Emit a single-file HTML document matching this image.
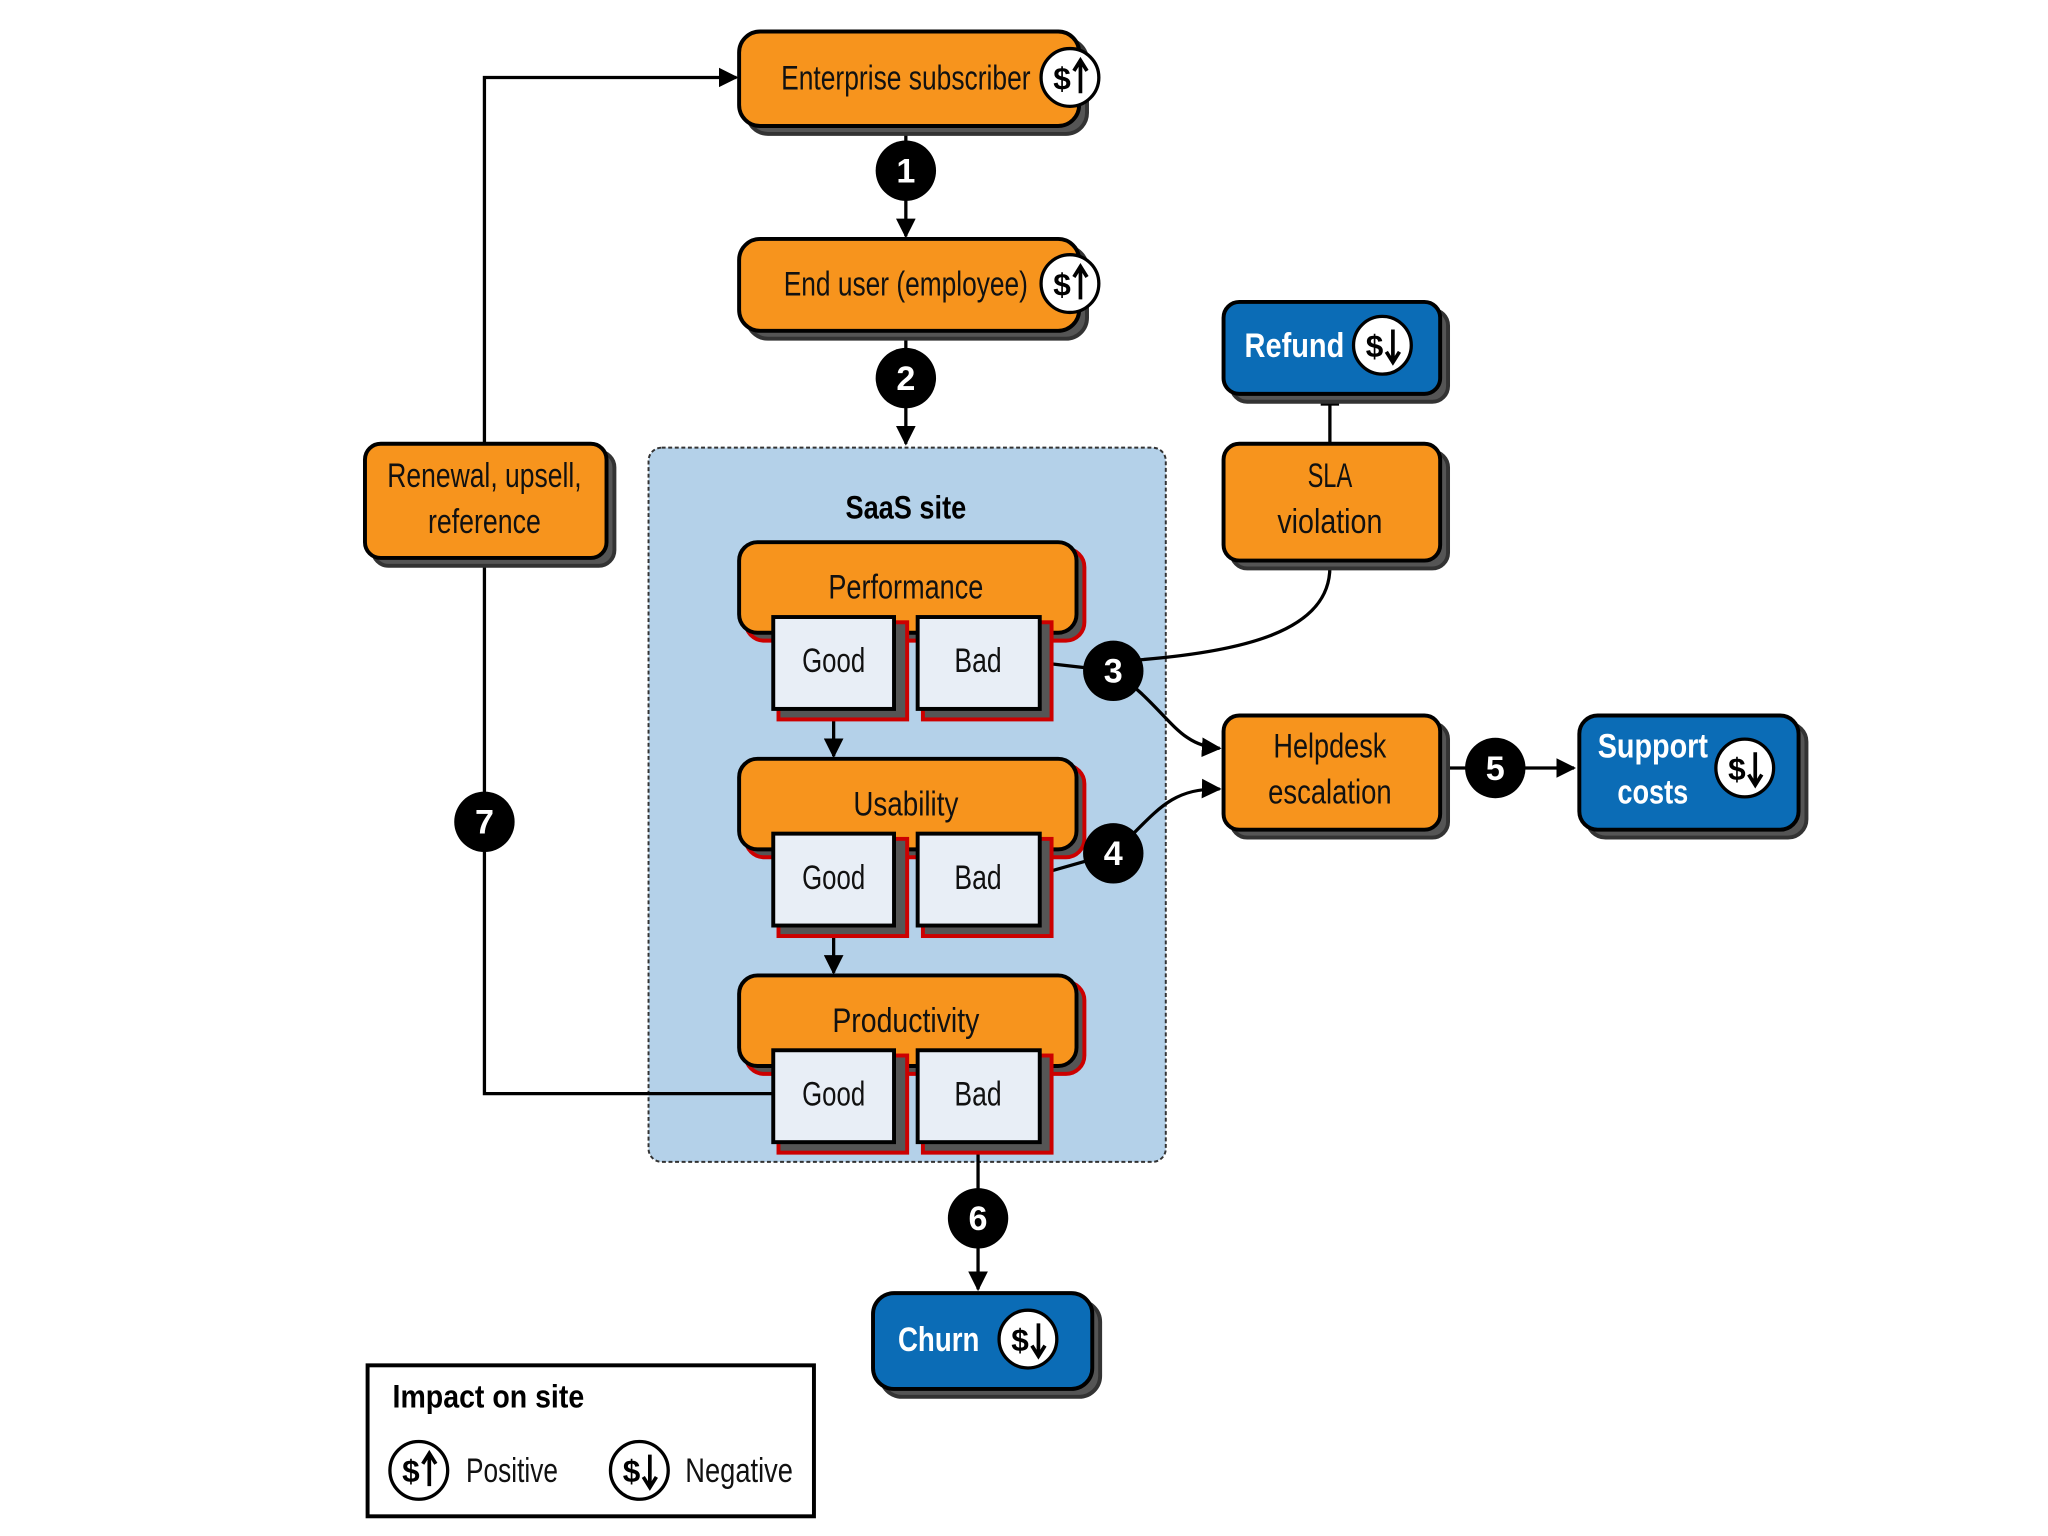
<!DOCTYPE html>
<html><head><meta charset="utf-8"><style>
html,body{margin:0;padding:0;background:#fff;}
svg{display:block;}
text{font-family:"Liberation Sans Narrow","Liberation Sans",sans-serif;}
</style></head><body>
<svg width="2048" height="1536" viewBox="0 0 1560 1170" xmlns="http://www.w3.org/2000/svg">
<defs>
<marker id="ah" viewBox="0 0 10 10" refX="9" refY="5" markerWidth="6" markerHeight="6" orient="auto"><path d="M0,0L10,5L0,10z" fill="#000"/></marker>
<g id="dup"><circle r="22" fill="#fff" stroke="#000" stroke-width="2.5"/><text x="-6" y="9" font-size="24" font-weight="bold" text-anchor="middle" fill="#000">$</text><path d="M8,12V-12M3,-5L8,-13L13,-5" stroke="#000" stroke-width="2.8" fill="none"/></g>
<g id="ddn"><circle r="22" fill="#fff" stroke="#000" stroke-width="2.5"/><text x="-6" y="9" font-size="24" font-weight="bold" text-anchor="middle" fill="#000">$</text><path d="M8,-12V12M3,5L8,13L13,5" stroke="#000" stroke-width="2.8" fill="none"/></g>
</defs>
<rect width="1560" height="1170" fill="#fff"/>

<rect x="494" y="341" width="394" height="544" rx="10" fill="#b4d1e9" stroke="#333" stroke-width="1.5" stroke-dasharray="3,2"/>
<text x="690" y="395" font-size="25" font-weight="bold" text-anchor="middle" textLength="92" lengthAdjust="spacingAndGlyphs">SaaS site</text>

<g stroke="#000" stroke-width="2.5" fill="none">
<line x1="690" y1="96" x2="690" y2="180" marker-end="url(#ah)"/>
<line x1="690" y1="252" x2="690" y2="338" marker-end="url(#ah)"/>
<path d="M589,833H369V59H561" marker-end="url(#ah)"/>
<line x1="635" y1="540" x2="635" y2="576" marker-end="url(#ah)"/>
<line x1="635" y1="705" x2="635" y2="741" marker-end="url(#ah)"/>
<line x1="745" y1="870" x2="745" y2="982" marker-end="url(#ah)"/>
<path d="M795,505L848,511"/>
<path d="M848,504C950,498 1013,480 1013,432"/>
<path d="M1013,338V306"/>
<path d="M848,511C890,540 895,568 929,570" marker-end="url(#ah)"/>
<path d="M795,665L848,650C880,620 890,600 929,601" marker-end="url(#ah)"/>
<line x1="1097" y1="585" x2="1199" y2="585" marker-end="url(#ah)"/>
</g>
<rect x="1006" y="305" width="14" height="4" fill="#000"/>
<rect x="1006" y="427" width="14" height="4" fill="#000"/>

<g stroke="#000" stroke-width="3">
<rect x="569" y="30" width="259" height="72" rx="16" fill="#555" stroke="#333"/>
<rect x="563" y="24" width="259" height="72" rx="16" fill="#f7941d"/>
<rect x="569" y="188" width="259" height="70" rx="16" fill="#555" stroke="#333"/>
<rect x="563" y="182" width="259" height="70" rx="16" fill="#f7941d"/>
<rect x="284" y="344" width="184" height="87" rx="12" fill="#555" stroke="#333"/>
<rect x="278" y="338" width="184" height="87" rx="12" fill="#f7941d"/>
<rect x="938" y="236" width="165" height="70" rx="12" fill="#555" stroke="#333"/>
<rect x="932" y="230" width="165" height="70" rx="12" fill="#0b6cb6"/>
<rect x="938" y="344" width="165" height="89" rx="12" fill="#555" stroke="#333"/>
<rect x="932" y="338" width="165" height="89" rx="12" fill="#f7941d"/>
<rect x="938" y="551" width="165" height="87" rx="12" fill="#555" stroke="#333"/>
<rect x="932" y="545" width="165" height="87" rx="12" fill="#f7941d"/>
<rect x="1209" y="551" width="167" height="87" rx="14" fill="#555" stroke="#333"/>
<rect x="1203" y="545" width="167" height="87" rx="14" fill="#0b6cb6"/>
<rect x="671" y="991" width="167" height="73" rx="16" fill="#555" stroke="#333"/>
<rect x="665" y="985" width="167" height="73" rx="16" fill="#0b6cb6"/>
</g>

<g stroke-width="3">
<g>
<rect x="568" y="418" width="258" height="70" rx="14" fill="#555" stroke="#c00"/>
<rect x="563" y="413" width="257" height="69" rx="14" fill="#f7941d" stroke="#000"/>
<rect x="593" y="474" width="98" height="74" fill="#555" stroke="#c00"/>
<rect x="589" y="470" width="92" height="70" fill="#e8eef6" stroke="#000"/>
<rect x="703" y="474" width="98" height="74" fill="#555" stroke="#c00"/>
<rect x="699" y="470" width="93" height="70" fill="#e8eef6" stroke="#000"/>
</g>
<g>
<rect x="568" y="583" width="258" height="70" rx="14" fill="#555" stroke="#c00"/>
<rect x="563" y="578" width="257" height="69" rx="14" fill="#f7941d" stroke="#000"/>
<rect x="593" y="639" width="98" height="74" fill="#555" stroke="#c00"/>
<rect x="589" y="635" width="92" height="70" fill="#e8eef6" stroke="#000"/>
<rect x="703" y="639" width="98" height="74" fill="#555" stroke="#c00"/>
<rect x="699" y="635" width="93" height="70" fill="#e8eef6" stroke="#000"/>
</g>
<g>
<rect x="568" y="748" width="258" height="70" rx="14" fill="#555" stroke="#c00"/>
<rect x="563" y="743" width="257" height="69" rx="14" fill="#f7941d" stroke="#000"/>
<rect x="593" y="804" width="98" height="74" fill="#555" stroke="#c00"/>
<rect x="589" y="800" width="92" height="70" fill="#e8eef6" stroke="#000"/>
<rect x="703" y="804" width="98" height="74" fill="#555" stroke="#c00"/>
<rect x="699" y="800" width="93" height="70" fill="#e8eef6" stroke="#000"/>
</g>
</g>

<g font-size="26" fill="#111" text-anchor="middle">
<text x="690" y="68" textLength="190" lengthAdjust="spacingAndGlyphs">Enterprise subscriber</text>
<text x="690" y="225" textLength="186" lengthAdjust="spacingAndGlyphs">End user (employee)</text>
<text x="369" y="371" textLength="148" lengthAdjust="spacingAndGlyphs">Renewal, upsell,</text>
<text x="369" y="406" textLength="86" lengthAdjust="spacingAndGlyphs">reference</text>
<text x="1013" y="371" textLength="34" lengthAdjust="spacingAndGlyphs">SLA</text>
<text x="1013" y="406" textLength="80" lengthAdjust="spacingAndGlyphs">violation</text>
<text x="1013" y="577" textLength="86" lengthAdjust="spacingAndGlyphs">Helpdesk</text>
<text x="1013" y="612" textLength="94" lengthAdjust="spacingAndGlyphs">escalation</text>
<text x="690" y="456" textLength="118" lengthAdjust="spacingAndGlyphs">Performance</text>
<text x="690" y="621" textLength="80" lengthAdjust="spacingAndGlyphs">Usability</text>
<text x="690" y="786" textLength="112" lengthAdjust="spacingAndGlyphs">Productivity</text>
<text x="635" y="512" textLength="48" lengthAdjust="spacingAndGlyphs">Good</text>
<text x="745" y="512" textLength="36" lengthAdjust="spacingAndGlyphs">Bad</text>
<text x="635" y="677" textLength="48" lengthAdjust="spacingAndGlyphs">Good</text>
<text x="745" y="677" textLength="36" lengthAdjust="spacingAndGlyphs">Bad</text>
<text x="635" y="842" textLength="48" lengthAdjust="spacingAndGlyphs">Good</text>
<text x="745" y="842" textLength="36" lengthAdjust="spacingAndGlyphs">Bad</text>
</g>
<g font-size="26" fill="#fff" font-weight="bold" text-anchor="middle">
<text x="986" y="272" textLength="76" lengthAdjust="spacingAndGlyphs">Refund</text>
<text x="1259" y="577" textLength="84" lengthAdjust="spacingAndGlyphs">Support</text>
<text x="1259" y="612" textLength="54" lengthAdjust="spacingAndGlyphs">costs</text>
<text x="715" y="1029" textLength="62" lengthAdjust="spacingAndGlyphs">Churn</text>
</g>

<use href="#dup" x="815" y="59"/>
<use href="#dup" x="815" y="216"/>
<use href="#ddn" x="1053" y="263"/>
<use href="#ddn" x="1329" y="585"/>
<use href="#ddn" x="783" y="1020"/>

<g font-size="26" font-weight="bold" fill="#fff" text-anchor="middle">
<circle cx="690" cy="130" r="23" fill="#000"/><text x="690" y="139">1</text>
<circle cx="690" cy="288" r="23" fill="#000"/><text x="690" y="297">2</text>
<circle cx="848" cy="511" r="23" fill="#000"/><text x="848" y="520">3</text>
<circle cx="848" cy="650" r="23" fill="#000"/><text x="848" y="659">4</text>
<circle cx="1139" cy="585" r="23" fill="#000"/><text x="1139" y="594">5</text>
<circle cx="745" cy="928" r="23" fill="#000"/><text x="745" y="937">6</text>
<circle cx="369" cy="626" r="23" fill="#000"/><text x="369" y="635">7</text>
</g>

<rect x="280" y="1040" width="340" height="115" fill="#fff" stroke="#000" stroke-width="3"/>
<text x="299" y="1072" font-size="25" font-weight="bold" textLength="146" lengthAdjust="spacingAndGlyphs">Impact on site</text>
<use href="#dup" x="319" y="1120"/>
<text x="355" y="1129" font-size="26" fill="#111" textLength="70" lengthAdjust="spacingAndGlyphs">Positive</text>
<use href="#ddn" x="487" y="1120"/>
<text x="522" y="1129" font-size="26" fill="#111" textLength="82" lengthAdjust="spacingAndGlyphs">Negative</text>
</svg>
</body></html>
